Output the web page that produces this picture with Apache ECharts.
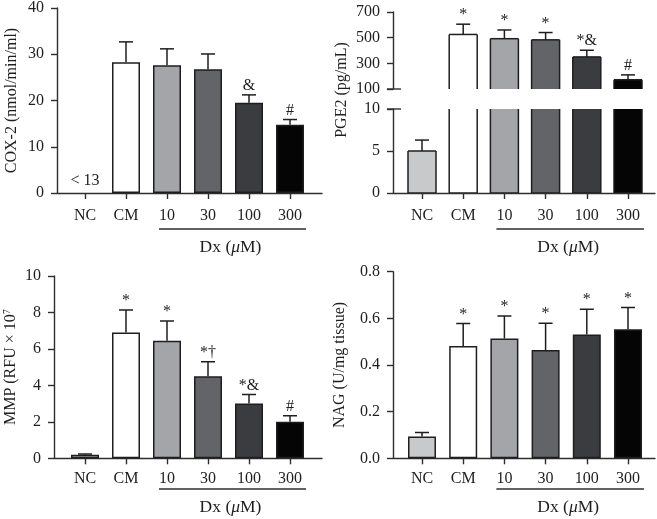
<!DOCTYPE html>
<html><head><meta charset="utf-8">
<script src="https://cdn.jsdelivr.net/npm/echarts@6/dist/echarts.min.js"></script>
<style>html,body{margin:0;padding:0;background:#fff}#c{width:657px;height:519px}</style>
</head><body><div id="c"></div>
<script>
// ---------- data ----------
const categories = ['NC', 'CM', '10', '30', '100', '300'];
const barColors = ['#c8c9cb', '#ffffff', '#a3a5a8', '#636468', '#3b3c40', '#050505'];

const cox2Mean = [null, 28.1, 27.5, 26.6, 19.4, 14.7];
const cox2Sd = [null, 4.4, 3.5, 3.3, 1.7, 1.1];
const cox2Marks = ['< 13', '', '', '', '&', '#'];
const cox2Ticks = [0, 10, 20, 30, 40];

const pge2Mean = [5.0, 525, 492, 483, 350, 172];
const pge2Sd = [1.3, 80, 68, 57, 52, 38];
const pge2Marks = ['', '*', '*', '*', '*&', '#'];
const pge2UpperTicks = [100, 300, 500, 700];
const pge2LowerTicks = [0, 5, 10];

const mmpMean = [0.2, 6.9, 6.45, 4.5, 3.0, 2.0];
const mmpSd = [0.03, 1.24, 1.08, 0.8, 0.5, 0.33];
const mmpMarks = ['', '*', '*', '*\u2020', '*&', '#'];
const mmpTicks = [0, 2, 4, 6, 8, 10];

const nagMean = [0.093, 0.481, 0.514, 0.464, 0.531, 0.553];
const nagSd = [0.018, 0.097, 0.096, 0.115, 0.108, 0.093];
const nagMarks = ['', '*', '*', '*', '*', '*'];
const nagTicks = [0, 0.2, 0.4, 0.6, 0.8];

const groupLabel = 'Dx';
// ---------- style ----------
const FONT = 'Liberation Serif';
const INK = '#1e1e1e';
const AX = '#2e2e2e';
const BAR_W = 28;

const chart = echarts.init(document.getElementById('c'), null, {renderer: 'canvas'});
const grid = [], xAxis = [], yAxis = [], series = [];

function addGrid(g) { grid.push(g); return grid.length - 1; }

function frameAxes(gi, ticks, fmt, opts) {
  opts = opts || {};
  xAxis.push({gridIndex: gi, type: 'value', min: 0, max: 1, show: opts.xLine !== false,
    axisLine: {show: true, onZero: false, lineStyle: {color: AX, width: 1.4}},
    axisTick: {show: false}, axisLabel: {show: false}, splitLine: {show: false}});
  yAxis.push({gridIndex: gi, type: 'value', min: ticks[0], max: ticks[ticks.length - 1],
    interval: ticks[1] - ticks[0],
    axisLine: {show: true, lineStyle: {color: AX, width: 1.4}},
    axisTick: {show: true, length: 6, lineStyle: {color: AX, width: 1.4}, customValues: ticks},
    axisLabel: {show: true, margin: 13, color: INK, fontFamily: FONT, fontSize: 16,
      customValues: ticks, formatter: fmt || (v => String(v))},
    splitLine: {show: false},
    name: opts.name || '', nameLocation: 'middle', nameGap: opts.nameGap || 30,
    nameTextStyle: {color: INK, fontFamily: FONT, fontSize: 16, rich: opts.rich || {}}});
}

function dataAxes(gi, ticks, showX, labelMargin) {
  xAxis.push({gridIndex: gi, type: 'category', data: categories, show: showX,
    axisLine: {show: false},
    axisTick: {show: true, alignWithLabel: true, length: 6, lineStyle: {color: AX, width: 1.4}},
    axisLabel: {color: INK, fontFamily: FONT, fontSize: 16, margin: labelMargin, interval: 0}});
  yAxis.push({gridIndex: gi, type: 'value', min: ticks[0], max: ticks[ticks.length - 1], show: false});
  return xAxis.length - 1;
}

function barSeries(ai, means) {
  series.push({type: 'bar', xAxisIndex: ai, yAxisIndex: ai, barWidth: BAR_W, clip: true,
    data: means.map((v, i) => ({value: v, itemStyle: {color: barColors[i]}})),
    itemStyle: {borderColor: INK, borderWidth: 1.5}, animation: false, z: 2});
}

// bars for a segment of a broken axis: open edge where the bar is cut by the segment
function brokenBarSeries(ai, means, ticks) {
  const yMin = ticks[0], yMax = ticks[ticks.length - 1];
  series.push({type: 'custom', xAxisIndex: ai, yAxisIndex: ai, clip: true, z: 2, animation: false,
    data: categories.map((c, i) => [i, means[i] == null ? 0 : means[i]]),
    renderItem: function (params, api) {
      const i = api.value(0);
      const v = means[i];
      if (v == null || v <= yMin) return null;
      const cutTop = v > yMax, cutBottom = yMin > 0;
      const pTop = api.coord([i, Math.min(v, yMax)]);
      const pBase = api.coord([i, Math.max(0, yMin)]);
      const x0 = pTop[0] - BAR_W / 2, x1 = pTop[0] + BAR_W / 2;
      const yT = pTop[1], yB = pBase[1];
      const st = {stroke: INK, lineWidth: 1.5, fill: null};
      const kids = [{type: 'rect', shape: {x: x0, y: yT, width: BAR_W, height: yB - yT},
        style: {fill: barColors[i], stroke: null}}];
      kids.push({type: 'line', shape: {x1: x0, y1: yT, x2: x0, y2: yB}, style: st});
      kids.push({type: 'line', shape: {x1: x1, y1: yT, x2: x1, y2: yB}, style: st});
      if (!cutTop) kids.push({type: 'line', shape: {x1: x0, y1: yT, x2: x1, y2: yT}, style: st});
      if (!cutBottom) kids.push({type: 'line', shape: {x1: x0, y1: yB, x2: x1, y2: yB}, style: st});
      return {type: 'group', children: kids};
    }});
}

function errSeries(ai, means, sds) {
  series.push({type: 'custom', xAxisIndex: ai, yAxisIndex: ai, clip: true, z: 3, animation: false,
    data: categories.map((c, i) => [i, means[i] == null ? 0 : means[i]]),
    renderItem: function (params, api) {
      const i = api.value(0);
      if (means[i] == null) return null;
      const p0 = api.coord([i, means[i]]);
      const p1 = api.coord([i, means[i] + sds[i]]);
      const hw = 7;
      return {type: 'group', children: [
        {type: 'line', shape: {x1: p0[0], y1: p0[1], x2: p1[0], y2: p1[1]}, style: {stroke: INK, lineWidth: 1.5}},
        {type: 'line', shape: {x1: p1[0] - hw, y1: p1[1], x2: p1[0] + hw, y2: p1[1]}, style: {stroke: INK, lineWidth: 1.5}}
      ]};
    }});
}

function markSeries(ai, means, sds, marks) {
  series.push({type: 'custom', xAxisIndex: ai, yAxisIndex: ai, clip: false, z: 4, animation: false,
    data: categories.map((c, i) => [i, means[i] == null ? 0 : means[i]]),
    renderItem: function (params, api) {
      const i = api.value(0);
      const m = marks[i];
      if (!m) return null;
      let p, dy;
      if (means[i] == null) { p = api.coord([i, 0]); dy = -4; }
      else { p = api.coord([i, means[i] + sds[i]]); dy = -1; }
      return {type: 'text', x: p[0], y: p[1] + dy,
        style: {text: m, align: 'center', verticalAlign: 'bottom', fontFamily: FONT,
          fontSize: 16, fill: INK}};
    }});
}

// ---------- Panel 1: COX-2 ----------
let g = addGrid({left: 57, top: 7, width: 265, height: 186});
frameAxes(g, cox2Ticks, null, {name: 'COX-2 (nmol/min/ml)', nameGap: 37});
g = addGrid({left: 64.5, top: 7, width: 246, height: 186});
const p1x = dataAxes(g, cox2Ticks, true, 15);
barSeries(p1x, cox2Mean); errSeries(p1x, cox2Mean, cox2Sd); markSeries(p1x, cox2Mean, cox2Sd, cox2Marks);

// ---------- Panel 2: PGE2 (broken axis) ----------
g = addGrid({left: 393, top: 109, width: 262, height: 84});
frameAxes(g, pge2LowerTicks, null, {});
const p2lowFrameY = yAxis.length - 1;
g = addGrid({left: 401.4, top: 109, width: 247.2, height: 84});
const p2x = dataAxes(g, pge2LowerTicks, true, 15);
brokenBarSeries(p2x, pge2Mean, pge2LowerTicks); errSeries(p2x, pge2Mean, pge2Sd);

g = addGrid({left: 393, top: 12, width: 262, height: 77});
frameAxes(g, pge2UpperTicks, null, {xLine: false});
const p2upFrameY = yAxis.length - 1;
g = addGrid({left: 401.4, top: 12, width: 247.2, height: 77});
const p2ux = dataAxes(g, pge2UpperTicks, false, 15);
brokenBarSeries(p2ux, pge2Mean, pge2UpperTicks); errSeries(p2ux, pge2Mean, pge2Sd); markSeries(p2ux, pge2Mean, pge2Sd, pge2Marks);

g = addGrid({left: 393, top: 0, width: 262, height: 180});
xAxis.push({gridIndex: g, type: 'value', show: false});
yAxis.push({gridIndex: g, type: 'value', min: 0, max: 1, axisLine: {show: false}, axisTick: {show: false},
  axisLabel: {show: false}, splitLine: {show: false}, name: 'PGE2 (pg/mL)', nameLocation: 'middle', nameGap: 43,
  nameTextStyle: {color: INK, fontFamily: FONT, fontSize: 16}});

// ---------- Panel 3: MMP ----------
g = addGrid({left: 54, top: 276, width: 268, height: 182.3});
frameAxes(g, mmpTicks, null, {name: 'MMP (RFU \u00d7 10{sup|7}', nameGap: 34,
  rich: {sup: {fontSize: 10, verticalAlign: 'top', fontFamily: FONT, color: INK, padding: [0, 0, 8, 0]}}});
g = addGrid({left: 64.5, top: 276, width: 246, height: 182.3});
const p3x = dataAxes(g, mmpTicks, true, 12);
barSeries(p3x, mmpMean); errSeries(p3x, mmpMean, mmpSd); markSeries(p3x, mmpMean, mmpSd, mmpMarks);

// ---------- Panel 4: NAG ----------
g = addGrid({left: 393, top: 271.7, width: 262, height: 186.6});
frameAxes(g, nagTicks, v => v.toFixed(1), {name: 'NAG (U/mg tissue)', nameGap: 45});
g = addGrid({left: 401.4, top: 271.7, width: 247.2, height: 186.6});
const p4x = dataAxes(g, nagTicks, true, 12);
barSeries(p4x, nagMean); errSeries(p4x, nagMean, nagSd); markSeries(p4x, nagMean, nagSd, nagMarks);

chart.setOption({animation: false, backgroundColor: '#fff', grid, xAxis, yAxis, series});

// ---------- group underline + "Dx (μM)" and axis-break marks ----------
const graphics = [];
function px(v) { return Array.isArray(v) ? v : [v, v]; }
function groupMark(ai, lineY, textY) {
  const xa = px(chart.convertToPixel({xAxisIndex: ai}, 2))[0];
  const xb = px(chart.convertToPixel({xAxisIndex: ai}, 5))[0];
  const x1 = xa - 8, x2 = xb + 16;
  graphics.push({type: 'line', shape: {x1, y1: lineY, x2, y2: lineY}, style: {stroke: AX, lineWidth: 1.4}});
  graphics.push({type: 'text', x: (x1 + x2) / 2 - 2, y: textY,
    style: {text: groupLabel + ' ({i|\u03bc}M)', align: 'center', verticalAlign: 'middle',
      fontFamily: FONT, fontSize: 17.5, fill: INK,
      rich: {i: {fontStyle: 'italic', fontFamily: FONT, fontSize: 17.5, fill: INK}}}});
}
groupMark(p1x, 229, 247);
groupMark(p2x, 229, 247);
groupMark(p3x, 489, 507);
groupMark(p4x, 489, 507);

function breakMark(yi, val) {
  const y = px(chart.convertToPixel({yAxisIndex: yi}, val))[1];
  graphics.push({type: 'line', shape: {x1: 393 - 6, y1: y, x2: 393 + 8, y2: y}, style: {stroke: AX, lineWidth: 1.4}});
}
breakMark(p2upFrameY, pge2UpperTicks[0]);
breakMark(p2lowFrameY, pge2LowerTicks[pge2LowerTicks.length - 1]);

chart.setOption({graphic: graphics});
</script>
</body></html>
